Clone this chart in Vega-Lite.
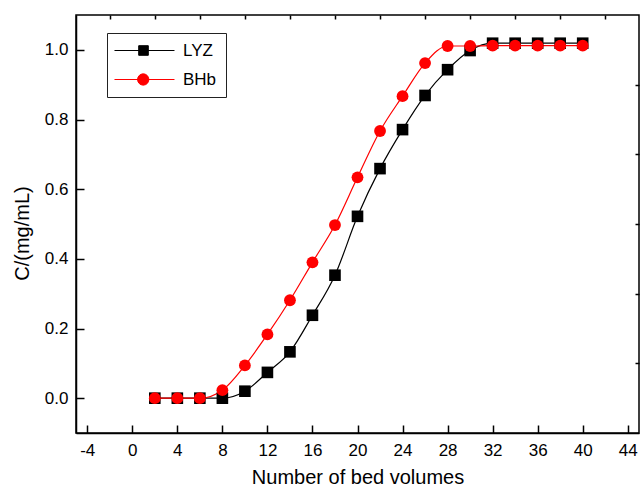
{
  "$schema": "https://vega.github.io/schema/vega-lite/v6.json",
  "width": 563,
  "height": 418,
  "autosize": {"type": "none"},
  "padding": {"left": 76, "top": 15, "right": 1, "bottom": 54},
  "background": "white",
  "config": {
    "font": "Liberation Sans",
    "view": {"stroke": "black", "strokeWidth": 1.5},
    "axis": {"grid": false, "domainColor": "black", "domainWidth": 1.5, "tickColor": "black", "tickWidth": 1.5, "labelColor": "black", "labelFont": "Liberation Sans", "labelFontSize": 17, "titleFont": "Liberation Sans", "titleFontSize": 20, "titleFontWeight": "normal", "titleColor": "black"},
    "legend": {"orient": "none", "legendX": 31, "legendY": 18, "padding": 9, "strokeColor": "#222", "fillColor": "white", "symbolSize": 144, "symbolStrokeWidth": 1, "symbolOpacity": 1, "rowPadding": 11, "labelFontSize": 17, "labelFont": "Liberation Sans", "labelColor": "black", "labelOffset": 50}
  },
  "data": {"values": [
    {"bv": 2, "c": 0.0, "s": "LYZ"}, {"bv": 4, "c": 0.0, "s": "LYZ"}, {"bv": 6, "c": 0.0, "s": "LYZ"}, {"bv": 8, "c": 0.0, "s": "LYZ"},
    {"bv": 10, "c": 0.02, "s": "LYZ"}, {"bv": 12, "c": 0.074, "s": "LYZ"}, {"bv": 14, "c": 0.133, "s": "LYZ"}, {"bv": 16, "c": 0.238, "s": "LYZ"},
    {"bv": 18, "c": 0.353, "s": "LYZ"}, {"bv": 20, "c": 0.522, "s": "LYZ"}, {"bv": 22, "c": 0.659, "s": "LYZ"}, {"bv": 24, "c": 0.771, "s": "LYZ"},
    {"bv": 26, "c": 0.869, "s": "LYZ"}, {"bv": 28, "c": 0.943, "s": "LYZ"}, {"bv": 30, "c": 0.998, "s": "LYZ"}, {"bv": 32, "c": 1.019, "s": "LYZ"},
    {"bv": 34, "c": 1.019, "s": "LYZ"}, {"bv": 36, "c": 1.019, "s": "LYZ"}, {"bv": 38, "c": 1.019, "s": "LYZ"}, {"bv": 40, "c": 1.019, "s": "LYZ"},
    {"bv": 2, "c": 0.0, "s": "BHb"}, {"bv": 4, "c": 0.0, "s": "BHb"}, {"bv": 6, "c": 0.0, "s": "BHb"}, {"bv": 8, "c": 0.023, "s": "BHb"},
    {"bv": 10, "c": 0.094, "s": "BHb"}, {"bv": 12, "c": 0.183, "s": "BHb"}, {"bv": 14, "c": 0.281, "s": "BHb"}, {"bv": 16, "c": 0.39, "s": "BHb"},
    {"bv": 18, "c": 0.497, "s": "BHb"}, {"bv": 20, "c": 0.634, "s": "BHb"}, {"bv": 22, "c": 0.767, "s": "BHb"}, {"bv": 24, "c": 0.867, "s": "BHb"},
    {"bv": 26, "c": 0.962, "s": "BHb"}, {"bv": 28, "c": 1.011, "s": "BHb"}, {"bv": 30, "c": 1.011, "s": "BHb"}, {"bv": 32, "c": 1.012, "s": "BHb"},
    {"bv": 34, "c": 1.012, "s": "BHb"}, {"bv": 36, "c": 1.012, "s": "BHb"}, {"bv": 38, "c": 1.012, "s": "BHb"}, {"bv": 40, "c": 1.012, "s": "BHb"}
  ]},
  "layer": [
    {
      "mark": {"type": "line", "interpolate": "monotone", "strokeWidth": 1.2},
      "encoding": {
        "x": {"field": "bv", "type": "quantitative", "scale": {"domain": [-5, 45], "nice": false, "zero": false},
          "axis": {"values": [-4, 0, 4, 8, 12, 16, 20, 24, 28, 32, 36, 40, 44], "labelExpr": "replace(datum.label, '−', '-')", "tickSize": -8, "labelPadding": 17, "title": "Number of bed volumes", "titlePadding": 9}},
        "y": {"field": "c", "type": "quantitative", "scale": {"domain": [-0.1, 1.1], "nice": false, "zero": false},
          "axis": {"values": [0, 0.2, 0.4, 0.6, 0.8, 1.0], "format": ".1f", "tickSize": -8, "labelPadding": 16, "title": "C/(mg/mL)", "titlePadding": 12, "titleY": 218}},
        "stroke": {"field": "s", "type": "nominal", "scale": {"domain": ["LYZ", "BHb"], "range": ["black", "#ff0000"]}, "legend": {"title": null}}
      }
    },
    {
      "transform": [{"filter": "datum.s === 'LYZ'"}],
      "mark": {"type": "square", "filled": true, "opacity": 1, "size": 135},
      "encoding": {
        "x": {"field": "bv", "type": "quantitative",
          "axis": {"values": [-2, 2, 6, 10, 14, 18, 22, 26, 30, 34, 38, 42], "tickSize": -4, "labels": false, "domain": false, "title": null}},
        "y": {"field": "c", "type": "quantitative",
          "axis": {"values": [0.1, 0.3, 0.5, 0.7, 0.9], "tickSize": -4, "labels": false, "domain": false, "title": null}},
        "fill": {"field": "s", "type": "nominal", "scale": {"domain": ["LYZ", "BHb"], "range": ["black", "#ff0000"]}, "legend": {"title": null}}
      }
    },
    {
      "transform": [{"filter": "datum.s === 'BHb'"}],
      "mark": {"type": "circle", "opacity": 1, "size": 140},
      "encoding": {
        "x": {"field": "bv", "type": "quantitative", "axis": null},
        "y": {"field": "c", "type": "quantitative", "axis": null},
        "fill": {"field": "s", "type": "nominal", "legend": {"title": null}}
      }
    },
    {
      "mark": {"type": "point", "filled": true, "opacity": 0},
      "encoding": {
        "x": {"field": "bv", "type": "quantitative", "axis": null},
        "y": {"field": "c", "type": "quantitative", "axis": null},
        "fill": {"field": "s", "type": "nominal", "legend": {"title": null}},
        "stroke": {"field": "s", "type": "nominal", "legend": {"title": null}},
        "shape": {"field": "s", "type": "nominal", "scale": {"domain": ["LYZ", "BHb"], "range": ["M-1.667,0H8.333M2.367,-0.8H3.967V0.8H2.367Z", "M-1.667,0H8.333M4.06,0A0.94,0.94 0 1,1 2.18,0A0.94,0.94 0 1,1 4.06,0Z"]}, "legend": {"title": null}}
      }
    }
  ],
  "resolve": {"axis": {"x": "independent", "y": "independent"}}
}
